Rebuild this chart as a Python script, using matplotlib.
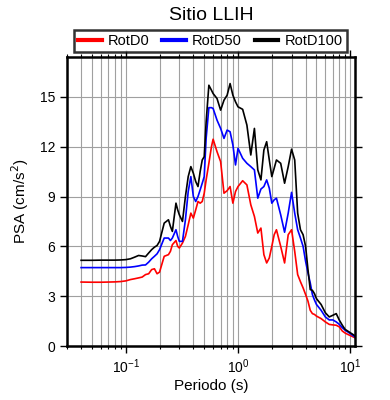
#!/usr/bin/env python

import numpy
import matplotlib
matplotlib.use("Agg")
from matplotlib import pyplot
from matplotlib.ticker import LogLocator, NullFormatter


# data

periods = [
    0.04, 0.05, 0.06, 0.07, 0.08, 0.09, 0.10, 0.11, 0.12, 0.13,
    0.14, 0.15, 0.16, 0.17, 0.18, 0.19, 0.20, 0.22, 0.24, 0.25,
    0.26, 0.28, 0.29, 0.30, 0.32, 0.34, 0.36, 0.38, 0.40, 0.42,
    0.44, 0.46, 0.48, 0.50, 0.52, 0.55, 0.58, 0.60, 0.65, 0.70,
    0.75, 0.80, 0.85, 0.90, 0.95, 1.00, 1.10, 1.20, 1.30, 1.40,
    1.50, 1.60, 1.70, 1.80, 1.90, 2.00, 2.10, 2.20, 2.40, 2.60,
    2.80, 3.00, 3.20, 3.40, 3.60, 3.80, 4.00, 4.20, 4.40, 4.60,
    4.80, 5.00, 5.50, 6.00, 6.50, 7.00, 7.50, 8.00, 8.50, 9.00,
    9.50, 10.0, 11.0,
]

rotd0 = [
    3.85, 3.84, 3.84, 3.85, 3.86, 3.88, 3.92, 4.00, 4.05, 4.10,
    4.15, 4.30, 4.35, 4.60, 4.65, 4.35, 4.45, 5.40, 5.50, 5.70,
    6.10, 6.35, 6.00, 5.90, 6.20, 6.60, 7.30, 8.00, 7.70, 8.20,
    8.70, 8.60, 8.70, 9.20, 10.0, 11.0, 12.0, 12.45, 11.7, 11.1,
    9.20, 9.35, 9.60, 8.60, 9.30, 9.60, 9.95, 9.70, 8.50, 7.80,
    6.80, 7.10, 5.50, 5.00, 5.30, 6.00, 6.70, 7.00, 6.00, 5.00,
    6.70, 7.00, 5.70, 4.30, 3.87, 3.50, 3.10, 2.70, 2.15, 1.95,
    1.90, 1.80, 1.65, 1.45, 1.30, 1.27, 1.25, 1.15, 0.90, 0.78,
    0.70, 0.63, 0.50,
]

rotd50 = [
    4.72, 4.72, 4.72, 4.72, 4.72, 4.72, 4.73, 4.75, 4.78, 4.82,
    4.87, 4.88, 5.05, 5.25, 5.40, 5.55, 5.80, 6.50, 6.50, 6.35,
    6.50, 7.00, 6.60, 6.30, 6.30, 7.60, 9.30, 10.2, 9.00, 8.70,
    9.00, 9.40, 9.80, 10.2, 12.5, 14.35, 14.35, 14.3, 13.6, 13.1,
    12.5, 13.0, 12.9, 12.1, 10.9, 11.9, 11.3, 11.0, 10.8, 10.6,
    8.90, 9.45, 9.60, 10.0, 9.50, 8.60, 8.80, 8.90, 7.90, 6.85,
    8.00, 9.25, 8.00, 7.00, 6.50, 6.00, 5.10, 4.40, 3.80, 3.10,
    2.77, 2.50, 2.15, 1.75, 1.57, 1.57, 1.45, 1.30, 1.10, 0.95,
    0.85, 0.75, 0.55,
]

rotd100 = [
    5.16, 5.16, 5.17, 5.17, 5.17, 5.18, 5.20, 5.25, 5.35, 5.45,
    5.42, 5.38, 5.60, 5.80, 5.95, 6.05, 6.30, 7.40, 7.60, 7.20,
    6.90, 8.60, 8.20, 7.90, 7.50, 9.00, 10.2, 10.8, 10.4, 9.90,
    9.60, 10.5, 11.2, 11.4, 13.5, 15.7, 15.4, 15.2, 14.9, 14.2,
    14.8, 15.1, 15.8, 15.1, 14.7, 14.4, 14.25, 13.3, 11.5, 13.1,
    10.6, 10.0, 11.8, 12.3, 11.2, 10.2, 10.7, 11.2, 11.0, 9.80,
    10.8, 11.85, 11.2, 8.00, 7.00, 6.70, 6.00, 4.60, 3.40, 3.35,
    3.15, 2.85, 2.50, 2.00, 1.75, 1.85, 1.95, 1.55, 1.25, 1.00,
    0.90, 0.80, 0.62,
]

labels = ["RotD0", "RotD50", "RotD100"]
colors = ["#ff0000", "#0000ff", "#000000"]
title = "Sitio LLIH"
y_ticks = [0, 3, 6, 9, 12, 15]

# plot

pyplot.rcParams["font.family"] = ["Liberation Sans", "DejaVu Sans"]

fig = pyplot.figure(figsize=(3.9, 4.0), dpi=100)
ax = fig.add_axes([0.172, 0.135, 0.738, 0.7225])

for values, label, color in zip([rotd0, rotd50, rotd100], labels, colors):
    ax.plot(periods, values, color=color, lw=1.2, label=label)

ax.set_xscale("log")
ax.set_xlim(0.03, 11.0)
ax.set_ylim(0.0, 17.4)
ax.set_yticks(y_ticks)

ax.xaxis.set_major_locator(LogLocator(base=10.0))
ax.xaxis.set_minor_locator(LogLocator(base=10.0, subs=numpy.arange(2, 10)))
ax.xaxis.set_minor_formatter(NullFormatter())

ax.grid(True, which="major", axis="both", color="#a0a0a0", lw=0.8)
ax.grid(True, which="minor", axis="x", color="#a0a0a0", lw=0.8)
ax.set_axisbelow(True)

ax.tick_params(which="major", direction="out", length=5, width=1.0,
               labelsize=10, top=True, right=True)
ax.tick_params(which="minor", direction="out", length=2.5, width=0.8,
               top=True, right=False)
ax.tick_params(axis="y", which="minor", left=False, right=False)

for spine in ax.spines.values():
    spine.set_linewidth(1.8)

ax.set_xlabel("Periodo (s)", fontsize=11, labelpad=2)
ax.set_ylabel("PSA (cm/s$^2$)", fontsize=11, labelpad=6)
ax.set_title(title, fontsize=14, pad=27)

leg = ax.legend(
    loc="lower center",
    bbox_to_anchor=(0.498, 1.016),
    ncol=3,
    fontsize=10.5,
    frameon=True,
    fancybox=False,
    handlelength=1.6,
    handletextpad=0.45,
    columnspacing=0.85,
    borderaxespad=0.0,
    borderpad=0.3,
)
leg.get_frame().set_edgecolor("black")
leg.get_frame().set_linewidth(1.8)
for line in leg.get_lines():
    line.set_linewidth(3.0)

fig.savefig("out.png", dpi=100)
